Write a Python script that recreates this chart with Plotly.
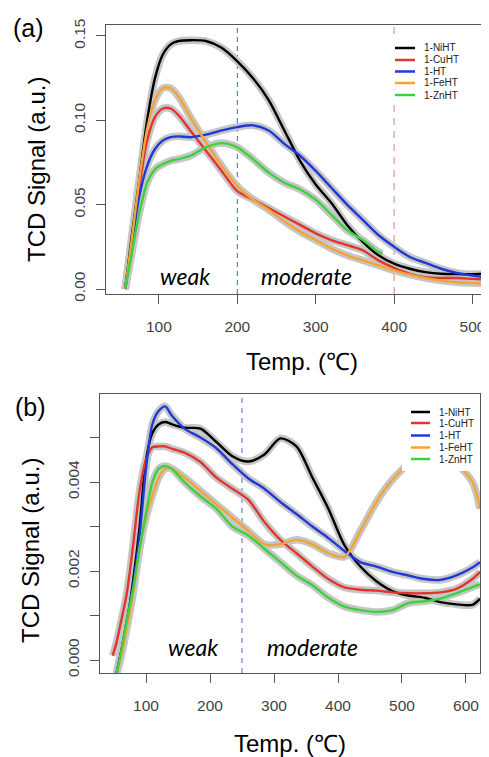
import plotly.graph_objects as go

# page is 489x757; the browser body has an 8px margin, so the figure starts at (8, 8)
OFF = 8
W, H = 489, 757 - OFF

# ---------------- Panel (a) data ----------------
T_a = [57, 65, 75, 85, 95, 105, 115, 125, 140, 160, 180, 200, 220, 240, 260,
       280, 300, 320, 340, 360, 380, 400, 420, 440, 460, 480, 500, 520]
niht_a = [0.0, 0.03, 0.065, 0.10, 0.125, 0.139, 0.145, 0.147, 0.1475, 0.147, 0.143,
          0.135, 0.125, 0.112, 0.094, 0.076, 0.062, 0.051, 0.038, 0.028, 0.020,
          0.015, 0.012, 0.010, 0.009, 0.0088, 0.0088, 0.009]
cuht_a = [0.0, 0.025, 0.06, 0.088, 0.102, 0.107, 0.107, 0.103, 0.094, 0.082, 0.070,
          0.058, 0.053, 0.048, 0.043, 0.038, 0.033, 0.029, 0.026, 0.023, 0.017,
          0.0125, 0.009, 0.007, 0.0065, 0.0065, 0.006, 0.0055]
ht_a = [0.0, 0.025, 0.055, 0.073, 0.083, 0.088, 0.090, 0.0905, 0.090, 0.0915, 0.094,
        0.096, 0.097, 0.094, 0.086, 0.079, 0.070, 0.060, 0.050, 0.041, 0.032,
        0.025, 0.019, 0.0155, 0.012, 0.0095, 0.008, 0.0065]
feht_a = [0.0, 0.028, 0.065, 0.095, 0.112, 0.119, 0.119, 0.114, 0.102, 0.087, 0.073,
          0.061, 0.053, 0.047, 0.040, 0.034, 0.029, 0.024, 0.020, 0.017, 0.014,
          0.011, 0.0085, 0.0065, 0.005, 0.004, 0.0035, 0.003]
T_a_zn = [57, 65, 75, 85, 95, 105, 115, 125, 140, 160, 180, 200, 220, 240, 260,
          280, 300, 320, 340, 360, 380, 385]
znht_a = [0.0, 0.02, 0.045, 0.063, 0.071, 0.074, 0.076, 0.077, 0.079, 0.084, 0.0865,
          0.084, 0.077, 0.069, 0.063, 0.059, 0.053, 0.044, 0.035, 0.029, 0.022, 0.021]

# ---------------- Panel (b) data ----------------
T_b = [48, 54, 60, 70, 80, 90, 100, 110, 120, 130, 140, 160, 185, 210, 235, 260,
       285, 310, 335, 360, 385, 410, 435, 460, 485, 510, 535, 560, 585, 610, 622]
niht_b = [None, -0.0003, 0.0001, 0.0008, 0.0018, 0.0030, 0.0045, 0.0051, 0.0053, 0.00535,
          0.0053, 0.00522, 0.0052, 0.0049, 0.00458, 0.00446, 0.00462, 0.00498, 0.0048,
          0.0041, 0.0034, 0.00258, 0.0021, 0.00177, 0.00155, 0.00145, 0.0014, 0.0013,
          0.00125, 0.00124, 0.00138]
cuht_b = [0.0001, 0.0004, 0.0008, 0.0015, 0.0026, 0.0038, 0.0045, 0.00478, 0.0048, 0.0048,
          0.00475, 0.00466, 0.00445, 0.0041, 0.00385, 0.0036, 0.0031, 0.0027, 0.0024,
          0.0021, 0.00182, 0.00163, 0.00158, 0.00156, 0.00152, 0.0015, 0.0015, 0.00152,
          0.0016, 0.00182, 0.00198]
ht_b = [None, -0.0003, 0.0001, 0.0009, 0.0017, 0.0028, 0.0043, 0.0053, 0.0056, 0.0057,
        0.0055, 0.0052, 0.0050, 0.00476, 0.0044, 0.00408, 0.00385, 0.00355, 0.00328,
        0.003, 0.00274, 0.00245, 0.0022, 0.0021, 0.00198, 0.0019, 0.00182, 0.0018,
        0.0019, 0.00208, 0.0022]
feht_b = [None, -0.0003, 0.0, 0.0007, 0.0015, 0.0025, 0.0032, 0.0037, 0.0041, 0.0043,
          0.0043, 0.0041, 0.0038, 0.0035, 0.0032, 0.0029, 0.0026, 0.0026, 0.0027,
          0.0026, 0.0024, 0.00232, 0.0029, 0.00355, 0.00405, 0.0044, 0.0045, 0.0045,
          0.0044, 0.0040, 0.0034]
znht_b = [None, -0.0003, 0.0001, 0.0009, 0.0016, 0.0025, 0.0033, 0.0040, 0.0043, 0.00436,
          0.0043, 0.0040, 0.00368, 0.0034, 0.0030, 0.0028, 0.0025, 0.0022, 0.0019,
          0.00168, 0.0014, 0.0012, 0.00112, 0.00108, 0.00112, 0.00128, 0.00132, 0.00138,
          0.0015, 0.00164, 0.0017]

names = ["1-NiHT", "1-CuHT", "1-HT", "1-FeHT", "1-ZnHT"]
colors = ["#000000", "#e3342f", "#2038d8", "#f2a535", "#3cd23c"]

series_a = [(T_a, niht_a), (T_a, cuht_a), (T_a, ht_a), (T_a, feht_a), (T_a_zn, znht_a)]
series_b = [(T_b, niht_b), (T_b, cuht_b), (T_b, ht_b), (T_b, feht_b), (T_b, znht_b)]

fig = go.Figure()
for xa, ya, series in (("x", "y", series_a), ("x2", "y2", series_b)):
    for xs, ys in series:
        fig.add_trace(go.Scatter(x=xs, y=ys, xaxis=xa, yaxis=ya, mode="lines",
                                 line=dict(color="#c6c6c6", width=7.5, shape="spline", smoothing=0.8),
                                 showlegend=False, hoverinfo="skip"))
    for (xs, ys), nm, c in zip(series, names, colors):
        fig.add_trace(go.Scatter(x=xs, y=ys, xaxis=xa, yaxis=ya, mode="lines", name=nm,
                                 line=dict(color=c, width=2.4, shape="spline", smoothing=0.8),
                                 showlegend=False))

def fx(p):
    return (p - OFF) / W

def fy(p):
    return 1 - (p - OFF) / H

FONT = "Liberation Sans, Arial, sans-serif"
axis_common = dict(showline=True, mirror=True, linecolor="#555", linewidth=1,
                   ticks="outside", ticklen=9, tickcolor="#555", tickwidth=1,
                   tickfont=dict(family=FONT, size=15.5, color="#444"),
                   showgrid=False, zeroline=False, automargin=False)

fig.update_layout(
    template="none",
    width=W, height=H, margin=dict(l=0, r=0, t=0, b=0, pad=0),
    paper_bgcolor="white", plot_bgcolor="white", showlegend=False,
    xaxis=dict(domain=[fx(106), fx(487.5)], range=[32.5, 519.1], anchor="y",
               tickvals=[100, 200, 300, 400, 500], ticklabelstandoff=9, **axis_common),
    yaxis=dict(domain=[fy(294), fy(25)], range=[-0.00296, 0.1565], anchor="x",
               tickvals=[0, 0.05, 0.10, 0.15], ticktext=["0.00", "0.05", "0.10", "0.15"],
               tickangle=-90, ticklabelstandoff=5, **axis_common),
    xaxis2=dict(domain=[fx(100), fx(480)], range=[28.1, 621.9], anchor="y2",
                tickvals=[100, 200, 300, 400, 500, 600], ticklabelstandoff=9, **axis_common),
    yaxis2=dict(domain=[fy(673), fy(394)], range=[-0.000292, 0.005978], anchor="x2",
                tickvals=[0, 0.001, 0.002, 0.003, 0.004, 0.005],
                ticktext=["0.000", "", "0.002", "", "0.004", ""],
                tickangle=-90, ticklabelstandoff=5, **axis_common),
)

shapes = []
# reference dashed lines
shapes.append(dict(type="line", xref="x", yref="y domain", x0=200, x1=200, y0=0, y1=1,
                   line=dict(color="#3f5fd0", width=1, dash="5px,4px"), layer="below"))
shapes.append(dict(type="line", xref="x", yref="y domain", x0=400, x1=400, y0=0, y1=1,
                   line=dict(color="#e07b8c", width=1, dash="7px,6px"), layer="below"))
shapes.append(dict(type="line", xref="x2", yref="y2 domain", x0=250, x1=250, y0=0, y1=1,
                   line=dict(color="#4a68e0", width=1, dash="5px,5px"), layer="below"))

annotations = []

def legend(x_line0, x_line1, x_text, rows, box):
    bx0, by0, bx1, by1 = box
    shapes.append(dict(type="rect", xref="paper", yref="paper", x0=fx(bx0), x1=fx(bx1),
                       y0=fy(by1), y1=fy(by0), fillcolor="white", line=dict(width=0),
                       layer="above"))
    for r, nm, c in zip(rows, names, colors):
        shapes.append(dict(type="line", xref="paper", yref="paper", x0=fx(x_line0),
                           x1=fx(x_line1), y0=fy(r), y1=fy(r),
                           line=dict(color=c, width=2.5), layer="above"))
        annotations.append(dict(x=fx(x_text), y=fy(r), xref="paper", yref="paper",
                                text=nm, showarrow=False, xanchor="left", yanchor="middle",
                                font=dict(family=FONT, size=10, color="#222")))

legend(395, 415, 422, [48, 60, 71.5, 83, 95], (389, 34, 486.5, 105))
legend(411, 430, 437, [412, 423, 435.5, 447.5, 459], (402, 395.5, 479.3, 471))

def txt(x, y, s, size, angle=0, italic=False, family=FONT, color="black"):
    annotations.append(dict(x=fx(x), y=fy(y), xref="paper", yref="paper", text=s,
                            showarrow=False, xanchor="center", yanchor="middle",
                            textangle=angle,
                            font=dict(family=family, size=size, color=color,
                                      style="italic" if italic else "normal")))

txt(28, 28, "(a)", 25)
txt(30, 407, "(b)", 25)
txt(36, 170, "TCD Signal (a.u.)", 24, angle=-90)
txt(30, 551, "TCD Signal (a.u.)", 24, angle=-90)
txt(302, 361, "Temp. (℃)", 24)
txt(290, 743, "Temp. (℃)", 24)
txt(185.5, 276, "weak", 23, italic=True, family="Lato, Open Sans, sans-serif")
txt(306, 276, "moderate", 23, italic=True, family="Lato, Open Sans, sans-serif")
txt(193, 647, "weak", 23, italic=True, family="Lato, Open Sans, sans-serif")
txt(312, 647, "moderate", 23, italic=True, family="Lato, Open Sans, sans-serif")

fig.update_layout(shapes=shapes, annotations=annotations)
fig.write_html("out.html")
